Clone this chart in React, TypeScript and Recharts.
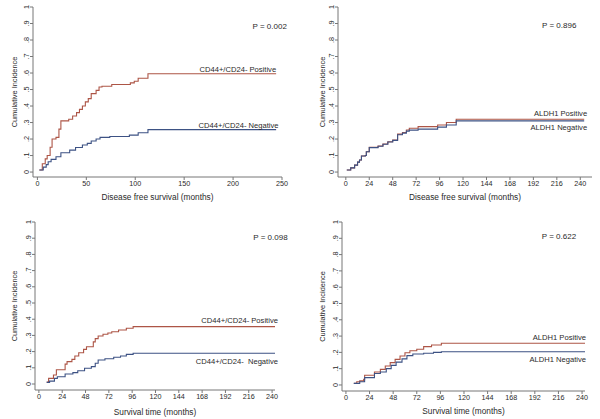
import React from 'react';
import { LineChart, Line, XAxis, YAxis, ReferenceDot } from 'recharts';

// [months, cumulative incidence] step points
const dfsCdPositive: [number, number][] = [
  [2, 0.012], [5, 0.05], [8, 0.08], [10, 0.1], [13, 0.15], [15, 0.2], [19, 0.21], [22, 0.26], [24, 0.31],
  [32, 0.32], [36, 0.34], [40, 0.36], [43, 0.38], [46, 0.4], [49, 0.425], [52, 0.445], [55, 0.475],
  [60, 0.495], [63, 0.515], [66, 0.52], [76, 0.53], [95, 0.54], [99, 0.55], [103, 0.568], [113, 0.596], [244, 0.596],
];
const dfsCdNegative: [number, number][] = [
  [2, 0.012], [6, 0.03], [9, 0.045], [11, 0.062], [14, 0.077], [19, 0.093], [24, 0.117], [33, 0.133],
  [39, 0.149], [46, 0.164], [51, 0.174], [55, 0.188], [60, 0.2], [64, 0.21], [74, 0.215], [94, 0.224],
  [103, 0.238], [113, 0.257], [244, 0.257],
];
const dfsAldhPositive: [number, number][] = [
  [1, 0.012], [5, 0.025], [9, 0.042], [12, 0.06], [14, 0.073], [16, 0.097], [20, 0.1], [21, 0.123], [24, 0.15],
  [33, 0.158], [38, 0.17], [43, 0.184], [48, 0.194], [53, 0.23], [58, 0.24], [62, 0.255], [65, 0.265],
  [74, 0.275], [94, 0.285], [103, 0.3], [113, 0.32], [244, 0.32],
];
const dfsAldhNegative: [number, number][] = [
  [1, 0.012], [5, 0.025], [9, 0.042], [12, 0.06], [14, 0.073], [16, 0.097], [20, 0.1], [21, 0.123], [24, 0.148],
  [33, 0.156], [38, 0.168], [43, 0.182], [48, 0.192], [53, 0.226], [58, 0.236], [62, 0.248], [65, 0.254],
  [74, 0.26], [94, 0.272], [103, 0.285], [113, 0.31], [244, 0.31],
];
const osCdPositive: [number, number][] = [
  [8, 0.012], [10, 0.035], [15, 0.056], [18, 0.088], [27, 0.123], [29, 0.138], [34, 0.152], [37, 0.173],
  [41, 0.193], [46, 0.214], [49, 0.23], [56, 0.26], [58, 0.28], [61, 0.296], [66, 0.307], [71, 0.315],
  [75, 0.323], [82, 0.333], [90, 0.344], [97, 0.354], [244, 0.354],
];
const osCdNegative: [number, number][] = [
  [8, 0.01], [11, 0.018], [16, 0.035], [19, 0.045], [27, 0.062], [35, 0.07], [40, 0.082], [47, 0.097],
  [54, 0.107], [58, 0.128], [61, 0.148], [68, 0.156], [77, 0.165], [84, 0.173], [90, 0.183], [97, 0.19], [244, 0.19],
];
const osAldhPositive: [number, number][] = [
  [8, 0.01], [11, 0.02], [14, 0.025], [18, 0.035], [19, 0.06], [29, 0.08], [35, 0.096], [40, 0.116],
  [45, 0.137], [50, 0.157], [55, 0.178], [60, 0.198], [65, 0.21], [72, 0.219], [79, 0.235], [87, 0.245],
  [97, 0.256], [244, 0.256],
];
const osAldhNegative: [number, number][] = [
  [8, 0.01], [14, 0.02], [19, 0.045], [29, 0.07], [35, 0.08], [41, 0.1], [46, 0.12], [51, 0.14], [57, 0.16],
  [62, 0.18], [68, 0.19], [79, 0.195], [89, 0.2], [97, 0.204], [244, 0.204],
];

const yTicks = [0, 0.1, 0.2, 0.3, 0.4, 0.5, 0.6, 0.7, 0.8, 0.9, 1];
const ticks50 = [0, 50, 100, 150, 200, 250];
const ticks24 = [0, 24, 48, 72, 96, 120, 144, 168, 192, 216, 240];

const RED = '#ad5546';
const BLUE = '#3d5284';
const AXIS = '#777';
const INK = '#2a2a2a';

const toPoints = (pairs: [number, number][]) => pairs.map(([t, v]) => ({ t, v }));
const fmtY = (v: number) => (v === 0 ? '0' : v === 1 ? '1' : String(v).replace(/^0/, ''));

const YTick = (props: any) => {
  const { x, y, payload } = props;
  return (
    <text x={x} y={y} transform={`rotate(-90 ${x} ${y})`} textAnchor="middle" fontSize={7.2} fill={INK}>
      {fmtY(payload.value)}
    </text>
  );
};

const note = (key: string, x: number, y: number, text: string, dy: number, size: number) => (
  <ReferenceDot
    key={key}
    x={x}
    y={y}
    r={0}
    ifOverflow="visible"
    shape={(p: any) => (
      <text x={p.cx} y={p.cy + dy} textAnchor="end" fontSize={size} fill={INK} style={{ whiteSpace: 'pre' }}>
        {text}
      </text>
    )}
  />
);

const panels = [
  {
    left: 0, top: 0, height: 210, margin: { top: 7, right: 18, bottom: 0, left: 0 }, yWidth: 33, xHeight: 33,
    xDomain: [-4.5, 250], yMin: -0.03, xTicks: ticks50, yLabelX: 14, title: 'Disease free survival (months)', titleOffset: 10,
    pos: dfsCdPositive, neg: dfsCdNegative, p: 'P = 0.002', pAt: [255, 0.867],
    posLabel: 'CD44+/CD24- Positive', posAt: [244, 0.596, -2], negLabel: 'CD44+/CD24- Negative', negAt: [246.5, 0.257, -2],
  },
  {
    left: 300, top: 0, height: 210, margin: { top: 7, right: 8, bottom: 0, left: 0 }, yWidth: 38, xHeight: 33,
    xDomain: [-8, 252], yMin: -0.03, xTicks: ticks24, yLabelX: 22, title: 'Disease free survival (months)', titleOffset: 10,
    pos: dfsAldhPositive, neg: dfsAldhNegative, p: 'P = 0.896', pAt: [236, 0.873],
    posLabel: 'ALDH1 Positive', posAt: [247, 0.32, -3], negLabel: 'ALDH1 Negative', negAt: [247, 0.31, 9],
  },
  {
    left: 0, top: 210, height: 209, margin: { top: 12, right: 25, bottom: 0, left: 0 }, yWidth: 35, xHeight: 29,
    xDomain: [-4, 243], yMin: -0.037, xTicks: ticks24, yLabelX: 14, title: 'Survival time (months)', titleOffset: 4,
    pos: osCdPositive, neg: osCdNegative, p: 'P = 0.098', pAt: [256, 0.889],
    posLabel: 'CD44+/CD24- Positive', posAt: [246, 0.354, -3.5], negLabel: 'CD44+/CD24-  Negative', negAt: [246, 0.19, 11],
  },
  {
    left: 300, top: 210, height: 209, margin: { top: 12, right: 15, bottom: 0, left: 0 }, yWidth: 42, xHeight: 28,
    xDomain: [-4, 243], yMin: -0.037, xTicks: ticks24, yLabelX: 22, title: 'Survival time (months)', titleOffset: 5,
    pos: osAldhPositive, neg: osAldhNegative, p: 'P = 0.622', pAt: [234, 0.896],
    posLabel: 'ALDH1 Positive', posAt: [244, 0.256, -3], negLabel: 'ALDH1 Negative', negAt: [244, 0.204, 10],
  },
];

function Panel({ cfg }: { cfg: any }) {
  return (
    <div style={{ position: 'absolute', left: cfg.left, top: cfg.top }}>
      <LineChart width={300} height={cfg.height} margin={cfg.margin}>
        <XAxis
          type="number"
          dataKey="t"
          domain={cfg.xDomain}
          ticks={cfg.xTicks}
          interval={0}
          allowDataOverflow
          height={cfg.xHeight}
          stroke={AXIS}
          tickSize={3}
          tickMargin={1}
          tick={{ fontSize: 7.2, fill: INK }}
          label={{ value: cfg.title, position: 'insideBottom', offset: cfg.titleOffset, fontSize: 8.3, fill: INK }}
        />
        <YAxis
          type="number"
          dataKey="v"
          domain={[cfg.yMin, 1]}
          ticks={yTicks}
          interval={0}
          allowDataOverflow
          width={cfg.yWidth}
          stroke={AXIS}
          tickSize={3}
          tickMargin={1}
          tick={YTick}
          label={{
            content: (p: any) => {
              const vb = p.viewBox;
              const x = vb.x + cfg.yLabelX + 2.5;
              const y = vb.y + vb.height / 2;
              return (
                <text x={x} y={y} transform={`rotate(-90 ${x} ${y})`} textAnchor="middle" fontSize={7.4} fill={INK}>
                  Cumulative Incidence
                </text>
              );
            },
          }}
        />
        <Line data={toPoints(cfg.pos)} dataKey="v" type="stepAfter" stroke={RED} strokeWidth={1.1} dot={false} isAnimationActive={false} />
        <Line data={toPoints(cfg.neg)} dataKey="v" type="stepAfter" stroke={BLUE} strokeWidth={1.1} dot={false} isAnimationActive={false} />
        {note('p', cfg.pAt[0], cfg.pAt[1], cfg.p, 0, 8)}
        {note('pos', cfg.posAt[0], cfg.posAt[1], cfg.posLabel, cfg.posAt[2], 7.6)}
        {note('neg', cfg.negAt[0], cfg.negAt[1], cfg.negLabel, cfg.negAt[2], 7.6)}
      </LineChart>
    </div>
  );
}

export default function App() {
  return (
    <div
      style={{
        position: 'absolute',
        left: 0,
        top: 0,
        width: 600,
        height: 419,
        background: '#fff',
        fontFamily: '"Liberation Sans", Arial, sans-serif',
      }}
    >
      {panels.map((cfg, i) => (
        <Panel key={i} cfg={cfg} />
      ))}
    </div>
  );
}
